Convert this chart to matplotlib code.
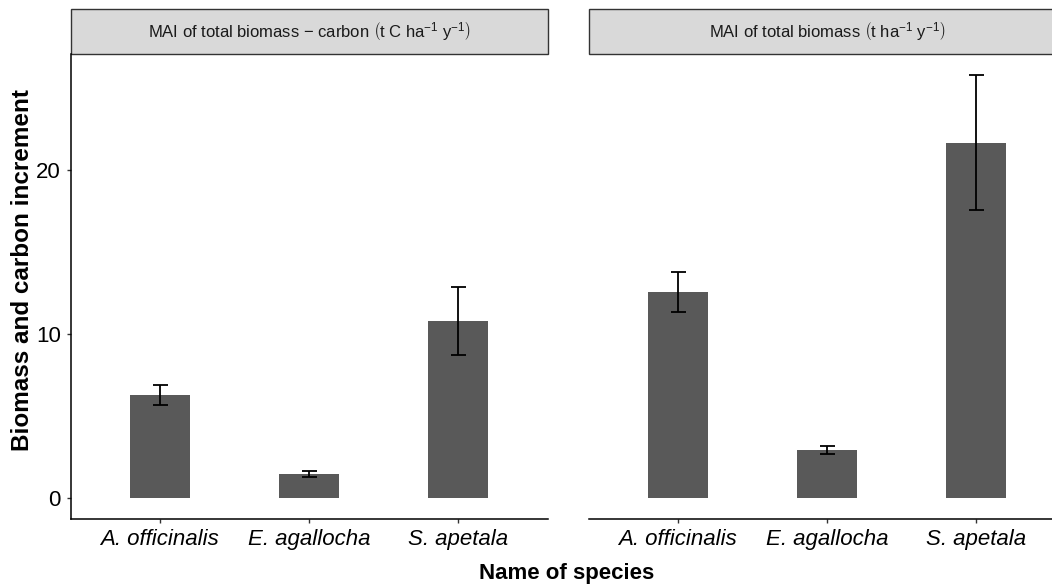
import numpy as np
import matplotlib.pyplot as plt
from matplotlib.patches import Rectangle

plt.rcParams['font.family'] = ['Liberation Sans', 'DejaVu Sans']
plt.rcParams['mathtext.fontset'] = 'custom'
plt.rcParams['mathtext.rm'] = 'Liberation Sans'
plt.rcParams['mathtext.it'] = 'Liberation Sans:italic'

# dados
species = ['A. officinalis', 'E. agallocha', 'S. apetala']
panel_titles = [r'MAI of total biomass $-$ carbon $\left(\mathrm{t\ C\ ha^{-1}\ y^{-1}}\right)$',
                r'MAI of total biomass $\left(\mathrm{t\ ha^{-1}\ y^{-1}}\right)$']
carbon_mean = [6.26, 1.45, 10.79]
carbon_se = [0.61, 0.16, 2.06]
biomass_mean = [12.56, 2.93, 21.65]
biomass_se = [1.20, 0.26, 4.12]

means = [carbon_mean, biomass_mean]
errs = [carbon_se, biomass_se]

W, H = 1052, 588
fig = plt.figure(figsize=(W / 100, H / 100), dpi=100)

x = np.arange(1, len(species) + 1)
lefts = [70.5, 588.5]
pw = 477
top, bot = 54, 519

for i in range(2):
    ax = fig.add_axes([lefts[i] / W, 1 - bot / H, pw / W, (bot - top) / H])
    ax.bar(x, means[i], width=0.4, color='#595959')
    ax.errorbar(x, means[i], yerr=errs[i], fmt='none', ecolor='black',
                elinewidth=1.3, capsize=5.4, capthick=1.3)
    ax.set_xlim(0.4, 3.6)
    ax.set_ylim(-1.29, 27.06)
    ax.set_xticks(x)
    ax.set_xticklabels(species, fontsize=16, style='italic')
    ax.set_yticks([0, 10, 20])
    ax.tick_params(axis='both', length=3, width=1, color='#333333', labelsize=16, pad=4)
    for s in ['top', 'right']:
        ax.spines[s].set_visible(False)
    ax.spines['bottom'].set_linewidth(1.1)
    ax.spines['left'].set_linewidth(1.1)
    if i == 1:
        ax.spines['left'].set_visible(False)
        ax.tick_params(axis='y', left=False, labelleft=False)
    # faixa do titulo (estilo facet)
    sh = (top - 9) / (bot - top)
    ax.add_patch(Rectangle((0, 1), 1, sh, transform=ax.transAxes, clip_on=False,
                           facecolor='#D9D9D9', edgecolor='#333333', lw=1))
    ax.text(0.5, 1 + sh / 2, panel_titles[i], transform=ax.transAxes,
            ha='center', va='center', fontsize=12, color='#1a1a1a')

fig.text(23 / W, 1 - 270 / H, 'Biomass and carbon increment', rotation=90,
         ha='center', va='center', fontsize=17.5, fontweight='bold')
fig.text(567 / W, 1 - 573 / H, 'Name of species', ha='center', va='center',
         fontsize=16, fontweight='bold')

fig.savefig('out.png', dpi=100)
